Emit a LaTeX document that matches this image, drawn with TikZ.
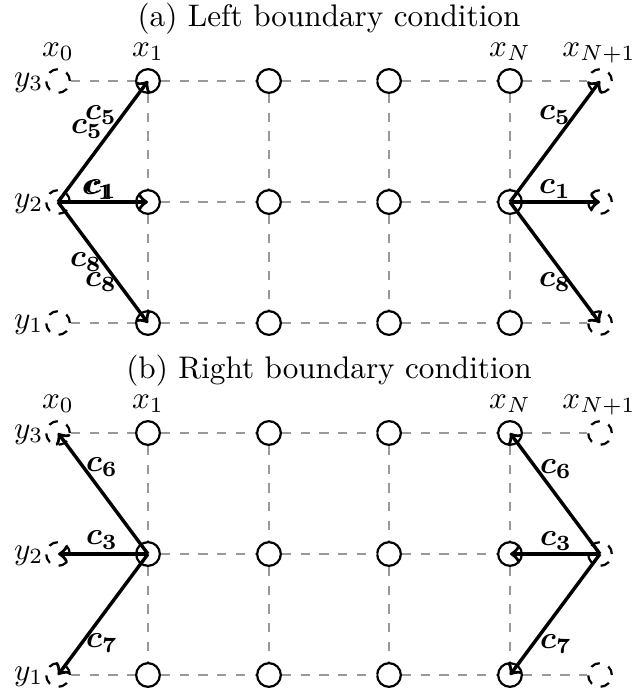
\documentclass[tikz,border=0pt]{standalone}
\usepackage{amsmath}
\tikzset{
  site/.style={circle,draw,line width=0.7pt,minimum size=7.6pt,inner sep=0pt},
  ghost/.style={site,dashed},
  gridline/.style={dashed,black!40,line width=0.4pt},
  vec/.style={->,line width=1.1pt},
  lab/.style={inner sep=0pt},
  ttl/.style={anchor=base},
  ylab/.style={anchor=base east,inner sep=0pt},
}
\begin{document}
\begin{tikzpicture}[x=0.3205pt,y=-0.3205pt]
\useasboundingbox (0,0) rectangle (633,690);
% ---------- panels ----------
\foreach \p/\off in {a/0,b/352}{
  % nodes
  \foreach \i/\x in {1/148,2/269,3/389,4/510}{
    \foreach \j/\y in {3/81,2/202,1/323}{
      \node[site] (\p\i\j) at (\x,\y+\off) {};
    }
  }
  \foreach \i/\x in {0/58,5/600}{
    \foreach \j/\y in {3/81,2/202,1/323}{
      \node[ghost] (\p\i\j) at (\x,\y+\off) {};
    }
  }
  % horizontal grid lines
  \foreach \j in {1,2,3}{
    \foreach \i [evaluate=\i as \n using int(\i+1)] in {0,...,4}{
      \draw[gridline] (\p\i\j) -- (\p\n\j);
    }
  }
  % vertical grid lines
  \foreach \i in {1,...,4}{
    \draw[gridline] (\p\i3) -- (\p\i2);
    \draw[gridline] (\p\i2) -- (\p\i1);
  }
  % axis labels
  \node[ttl] (\p x0) at (58,56+\off) {$x_0$};
  \node[ttl] (\p x1) at (148,56+\off) {$x_1$};
  \node[ttl] (\p xN) at (510,56+\off) {$x_N$};
  \node[ttl] (\p xM) at (599,56+\off) {$x_{N+1}$};
  \node[ylab] (\p y3) at (44,86+\off) {$y_3$};
  \node[ylab] (\p y2) at (44,207+\off) {$y_2$};
  \node[ylab] (\p y1) at (44,328+\off) {$y_1$};
}
% titles
\node[ttl] (ta) at (329,26) {(a) Left boundary condition};
\node[ttl] (tb) at (329,378) {(b) Right boundary condition};
% ---------- (a) arrows ----------
\draw[vec] (a02.center) -- (a13.center);
\draw[vec] (a02.center) -- (a12.center);
\draw[vec] (a02.center) -- (a11.center);
\draw[vec] (a42.center) -- (a53.center);
\draw[vec] (a42.center) -- (a52.center);
\draw[vec] (a42.center) -- (a51.center);
\node[lab] (la5) at (101,115) {$\boldsymbol{c_5}$};
\node[lab] (la5b) at (87,129) {$\boldsymbol{c_5}$};
\node[lab] (la1) at (101,189) {$\boldsymbol{c_1}$};
\node[lab] (la1b) at (98,190) {$\boldsymbol{c_1}$};
\node[lab] (la8) at (101,282) {$\boldsymbol{c_8}$};
\node[lab] (la8b) at (86,262) {$\boldsymbol{c_8}$};
\node[lab] (ra5) at (555,115) {$\boldsymbol{c_5}$};
\node[lab] (ra1) at (555,189) {$\boldsymbol{c_1}$};
\node[lab] (ra8) at (555,282) {$\boldsymbol{c_8}$};
% ---------- (b) arrows ----------
\draw[vec] (b12.center) -- (b03.center);
\draw[vec] (b12.center) -- (b02.center);
\draw[vec] (b12.center) -- (b01.center);
\draw[vec] (b52.center) -- (b43.center);
\draw[vec] (b52.center) -- (b42.center);
\draw[vec] (b52.center) -- (b41.center);
\node[lab] (lb6) at (102,467) {$\boldsymbol{c_6}$};
\node[lab] (lb3) at (102,540) {$\boldsymbol{c_3}$};
\node[lab] (lb7) at (102,643) {$\boldsymbol{c_7}$};
\node[lab] (rb6) at (556,469) {$\boldsymbol{c_6}$};
\node[lab] (rb3) at (556,541) {$\boldsymbol{c_3}$};
\node[lab] (rb7) at (556,644) {$\boldsymbol{c_7}$};
\end{tikzpicture}
\end{document}
